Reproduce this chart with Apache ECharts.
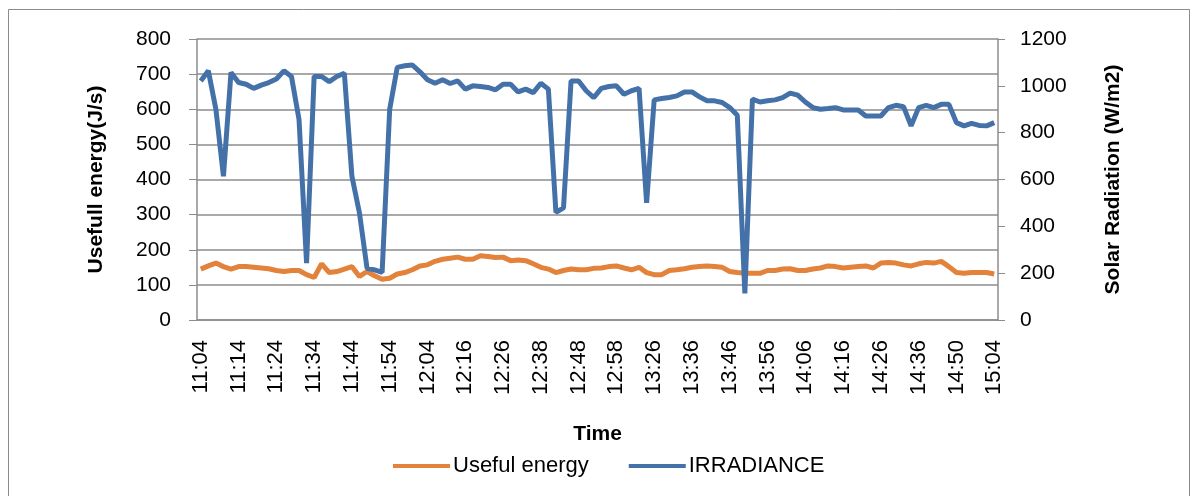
<!DOCTYPE html>
<html>
<head>
<meta charset="utf-8">
<script src="https://cdn.jsdelivr.net/npm/echarts@6/dist/echarts.min.js"></script>
<style>
html,body{margin:0;padding:0;background:#fff;}
#c{width:1199px;height:496px;}
</style>
</head>
<body>
<div id="c"></div>
<script>
const times = [
"11:04","11:06","11:08","11:10","11:12",
"11:14","11:16","11:18","11:20","11:22",
"11:24","11:26","11:28","11:30","11:32",
"11:34","11:36","11:38","11:40","11:42",
"11:44","11:46","11:48","11:50","11:52",
"11:54","11:56","11:58","12:00","12:02",
"12:04","12:06","12:08","12:10","12:13",
"12:16","12:18","12:20","12:22","12:24",
"12:26","12:28","12:30","12:32","12:35",
"12:38","12:40","12:42","12:44","12:46",
"12:48","12:50","12:52","12:54","12:56",
"12:58","13:04","13:10","13:16","13:22",
"13:26","13:28","13:30","13:32","13:34",
"13:36","13:38","13:40","13:42","13:44",
"13:46","13:48","13:50","13:52","13:54",
"13:56","13:58","14:00","14:02","14:04",
"14:06","14:08","14:10","14:12","14:14",
"14:16","14:18","14:20","14:22","14:24",
"14:26","14:28","14:30","14:32","14:34",
"14:36","14:38","14:41","14:44","14:47",
"14:50","14:53","14:56","14:58","15:01",
"15:04"];

const usefulEnergy = [
145,154,162,152,145, 152,152,150,148,146,
141,138,141,141,129, 121,160,135,138,145,
152,124,138,126,116, 119,131,135,143,154,
157,167,173,176,179, 173,173,183,181,178,
179,169,171,169,160, 150,145,135,141,145,
143,143,147,148,152, 154,148,143,150,135,
129,129,141,143,146, 150,152,154,152,150,
138,135,133,133,133, 141,141,145,146,141,
141,145,148,154,152, 148,150,152,154,148,
162,164,162,157,154, 160,164,162,167,152,
135,133,135,135,135, 131];

const irradiance = [
1021,1064,900,614,1057, 1014,1007,989,1003,1014,
1029,1064,1040,857,243, 1040,1040,1018,1040,1054,
614,457,221,214,203, 900,1079,1086,1089,1060,
1026,1011,1026,1010,1021, 986,1000,997,993,983,
1007,1007,974,986,971, 1011,986,460,479,1021,
1021,979,950,989,997, 1000,964,979,989,500,
940,946,950,957,974, 974,953,936,936,929,
907,874,114,943,931, 936,940,950,969,960,
931,907,900,903,907, 897,897,897,871,871,
871,907,917,911,829, 907,917,907,921,921,
843,829,840,831,829, 843];

const leftTicks = {min:0, max:800, interval:100};
const rightTicks = {min:0, max:1200, interval:200};

const FONT = "Liberation Sans";
const chart = echarts.init(document.getElementById('c'), null, {renderer:'canvas'});
chart.setOption({
  animation:false,
  backgroundColor:'#fff',
  textStyle:{fontFamily:FONT},
  graphic:[{type:'rect', shape:{x:8.5,y:9.5,width:1181,height:520},
    style:{fill:'none', stroke:'#8c8c8c', lineWidth:1}, silent:true, z:-1}],
  grid:{left:197, right:201, top:39, bottom:176, containLabel:false},
  legend:{
    data:[{name:'Useful energy', icon:'rect'},{name:'IRRADIANCE', icon:'rect'}],
    left:388, top:450, itemWidth:57, itemHeight:4, itemGap:40,
    textStyle:{fontFamily:FONT, fontSize:22, color:'#000', padding:[0,0,0,-2]}
  },
  xAxis:{
    type:'category', data:times, boundaryGap:true,
    name:'Time', nameLocation:'middle', nameGap:104,
    nameTextStyle:{fontFamily:FONT, fontSize:21, fontWeight:'bold', color:'#000'},
    axisLine:{lineStyle:{color:'#8c8c8c', width:1.5}},
    axisTick:{interval:0, length:6, lineStyle:{color:'#8c8c8c', width:1}},
    axisLabel:{interval:4, rotate:90, margin:20, fontFamily:FONT, fontSize:22, color:'#000'},
    splitLine:{show:false}
  },
  yAxis:[{
    type:'value', min:leftTicks.min, max:leftTicks.max, interval:leftTicks.interval,
    name:'Usefull energy(J/s)', nameLocation:'middle', nameGap:90, nameRotate:90,
    nameTextStyle:{fontFamily:FONT, fontSize:21, fontWeight:'bold', color:'#000'},
    axisLine:{show:true, lineStyle:{color:'#8c8c8c', width:1.5}},
    axisTick:{show:true, length:8, lineStyle:{color:'#8c8c8c'}},
    axisLabel:{margin:26, fontFamily:FONT, fontSize:21, color:'#000'},
    splitLine:{show:true, lineStyle:{color:'#8c8c8c', width:1.5}}
  },{
    type:'value', min:rightTicks.min, max:rightTicks.max, interval:rightTicks.interval,
    position:'right',
    name:'Solar Radiation (W/m2)', nameLocation:'middle', nameGap:126, nameRotate:90,
    nameTextStyle:{fontFamily:FONT, fontSize:21, fontWeight:'bold', color:'#000', verticalAlign:'bottom'},
    axisLine:{show:true, lineStyle:{color:'#8c8c8c', width:1.5}},
    axisTick:{show:true, length:7, lineStyle:{color:'#8c8c8c'}},
    axisLabel:{margin:22, fontFamily:FONT, fontSize:21, color:'#000', formatter:function(v){return String(v);}},
    splitLine:{show:false}
  }],
  series:[{
    name:'Useful energy', type:'line', yAxisIndex:0, data:usefulEnergy,
    symbol:'none', lineStyle:{color:'#E3823A', width:5}, itemStyle:{color:'#E3823A'}, z:2
  },{
    name:'IRRADIANCE', type:'line', yAxisIndex:1, data:irradiance,
    symbol:'none', lineStyle:{color:'#4571A9', width:5}, itemStyle:{color:'#4571A9'}, z:3
  }]
});
</script>
</body>
</html>
